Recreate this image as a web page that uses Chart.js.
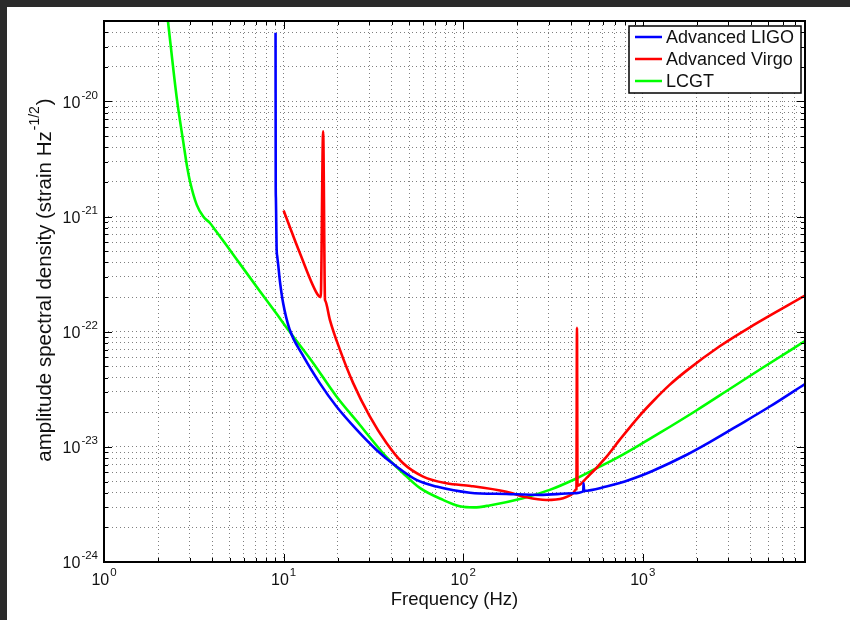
<!DOCTYPE html>
<html>
<head>
<meta charset="utf-8">
<script src="https://cdn.jsdelivr.net/npm/chart.js@4"></script>
<style>
html, body { margin: 0; padding: 0; background: #2b2b2b; }
#frame { position: absolute; left: 7px; top: 7px; width: 843px; height: 613px; background: #fff; }
canvas { display: block; }
</style>
</head>
<body>
<div id="frame"><canvas id="asdChart" width="843" height="613"></canvas></div>
<script>
// Noise curves (frequency in Hz, ASD in strain/sqrt(Hz))
const ligoFreq = [9.02, 9.04, 9.06, 9.1, 9.14, 9.22, 9.33, 9.54, 9.95, 10.8, 12.9, 15.9, 19.7, 25.5, 32.9, 42.5, 54.9, 71, 109, 174, 267, 409, 466, 468, 471, 627, 743, 1000, 1140, 1746, 2360, 3310, 5070, 7950];
const ligoAsd = [3.95e-20, 1.8e-21, 1.45e-21, 9.0e-22, 5.4e-22, 4.5e-22, 3.83e-22, 2.74e-22, 1.76e-22, 1.05e-22, 6.1e-23, 3.58e-23, 2.24e-23, 1.41e-23, 9.4e-24, 6.75e-24, 5.16e-24, 4.52e-24, 4.0e-24, 3.9e-24, 3.83e-24, 3.95e-24, 4.1e-24, 4.83e-24, 4.15e-24, 4.52e-24, 4.85e-24, 5.7e-24, 6.2e-24, 8.5e-24, 1.1e-23, 1.5e-23, 2.23e-23, 3.5e-23];

const virgoFreq = [10.0, 12.3, 15.6, 16.1, 16.6, 17.0, 17.05, 18.1, 20.6, 24.4, 30.2, 37.4, 46.3, 59.8, 80.7, 110, 174, 225, 290, 360, 409, 426, 427, 430, 433, 485, 627, 743, 961, 1140, 1400, 1746, 2679, 4105, 7950];
const virgoAsd = [1.13e-21, 4.86e-22, 2.06e-22, 2.0e-22, 5.5e-21, 1.9e-22, 1.865e-22, 1.27e-22, 6.96e-23, 3.58e-23, 1.84e-23, 1.08e-23, 7.2e-24, 5.52e-24, 4.83e-24, 4.58e-24, 4.08e-24, 3.65e-24, 3.46e-24, 3.58e-24, 3.95e-24, 4.28e-24, 4.3e-24, 1.08e-22, 4.6e-24, 5.35e-24, 8.2e-24, 1.15e-23, 1.87e-23, 2.49e-23, 3.42e-23, 4.57e-23, 7.48e-23, 1.135e-22, 2.05e-22];

const lcgtFreq = [2.27, 2.54, 2.76, 2.91, 3.01, 3.28, 3.57, 3.89, 4.15, 4.82, 5.96, 7.38, 9.14, 10.6, 14.6, 19.7, 26.6, 35.8, 46.3, 57.3, 77.3, 95.7, 115, 140, 215, 303, 409, 529, 713, 961, 1242, 1986, 3046, 4670, 7950];
const lcgtAsd = [5.0e-20, 1.08e-20, 4.5e-21, 2.65e-21, 2.03e-21, 1.27e-21, 1.0e-21, 8.8e-22, 7.7e-22, 5.6e-22, 3.55e-22, 2.25e-22, 1.43e-22, 1.04e-22, 5.35e-23, 2.74e-23, 1.55e-23, 8.8e-24, 5.9e-24, 4.4e-24, 3.46e-24, 3.05e-24, 2.98e-24, 3.1e-24, 3.58e-24, 4.23e-24, 5.16e-24, 6.3e-24, 7.98e-24, 1.04e-23, 1.32e-23, 2.07e-23, 3.18e-23, 4.89e-23, 8.25e-23];

const seriesNames = ['Advanced LIGO', 'Advanced Virgo', 'LCGT'];
const seriesColors = ['#0000ff', '#ff0000', '#00ff00'];

// Axis ranges and decade labels
const xRange = [1, 8000];
const yRange = [1e-24, 5e-20];
const xMajorTicks = [1, 10, 100, 1000];
const xMajorExp = ['0', '1', '2', '3'];
const yMajorTicks = [1e-24, 1e-23, 1e-22, 1e-21, 1e-20];
const yMajorExp = ['-24', '-23', '-22', '-21', '-20'];

const FONT = '"Liberation Sans", Arial, Helvetica, sans-serif';

function toPoints(freqs, vals) {
    return freqs.map((f, i) => ({ x: f, y: vals[i] }));
}

// 1..9 in every decade between lo and hi
function logGrid(lo, hi) {
    const out = [];
    const e0 = Math.floor(Math.log10(lo) + 1e-9);
    const e1 = Math.floor(Math.log10(hi) + 1e-9);
    for (let e = e0; e <= e1; e++) {
        for (let k = 1; k <= 9; k++) {
            const v = k * Math.pow(10, e);
            if (v >= lo * 0.999 && v <= hi * 1.001) out.push(v);
        }
    }
    return out;
}

function isDecade(v) {
    const l = Math.log10(v);
    return Math.abs(l - Math.round(l)) < 1e-6;
}

function drawPower(ctx, exp, x, y, align) {
    const big = '16px ' + FONT, small = '11.5px ' + FONT;
    ctx.font = big;
    const wb = ctx.measureText('10').width;
    ctx.font = small;
    const we = ctx.measureText(exp).width;
    const left = align === 'center' ? x - (wb + we + 1) / 2 : x - wb - we - 1;
    ctx.textAlign = 'left';
    ctx.textBaseline = 'middle';
    ctx.font = big;
    ctx.fillText('10', left, y);
    ctx.font = small;
    ctx.fillText(exp, left + wb + 1, y - 8);
}

// MATLAB-like frame: inward ticks on all sides, superscript tick labels, boxed legend
const figureDecor = {
    id: 'figureDecor',
    afterDraw(chart) {
        const ctx = chart.ctx;
        const a = chart.chartArea;
        const xs = chart.scales.x, ys = chart.scales.y;
        ctx.save();
        ctx.strokeStyle = '#000';
        ctx.lineWidth = 1;
        ctx.setLineDash([]);
        ctx.beginPath();
        logGrid(xRange[0], xRange[1]).forEach(v => {
            const px = Math.round(xs.getPixelForValue(v)) + 0.5;
            const len = isDecade(v) ? 8 : 4;
            ctx.moveTo(px, a.bottom); ctx.lineTo(px, a.bottom - len);
            ctx.moveTo(px, a.top); ctx.lineTo(px, a.top + len);
        });
        logGrid(yRange[0], yRange[1]).forEach(v => {
            const py = Math.round(ys.getPixelForValue(v)) + 0.5;
            const len = isDecade(v) ? 8 : 4;
            ctx.moveTo(a.left, py); ctx.lineTo(a.left + len, py);
            ctx.moveTo(a.right, py); ctx.lineTo(a.right - len, py);
        });
        ctx.stroke();

        ctx.lineWidth = 2;
        ctx.strokeRect(a.left, a.top, a.right - a.left, a.bottom - a.top);

        ctx.fillStyle = '#111';
        xMajorTicks.forEach((v, i) => {
            drawPower(ctx, xMajorExp[i], xs.getPixelForValue(v), a.bottom + 19, 'center');
        });
        yMajorTicks.forEach((v, i) => {
            drawPower(ctx, yMajorExp[i], a.left - 6, ys.getPixelForValue(v) + 2, 'right');
        });

        // y axis title with superscript exponent
        const tBig = '20.5px ' + FONT, tSmall = '14px ' + FONT;
        const partA = 'amplitude spectral density (strain Hz', partB = '-1/2', partC = ')';
        ctx.font = tBig;
        const wA = ctx.measureText(partA).width, wC = ctx.measureText(partC).width;
        ctx.font = tSmall;
        const wB = ctx.measureText(partB).width;
        const total = wA + wB + wC + 2;
        ctx.translate(38, 273);
        ctx.rotate(-Math.PI / 2);
        ctx.textBaseline = 'middle';
        ctx.textAlign = 'left';
        let tx = -total / 2;
        ctx.font = tBig; ctx.fillText(partA, tx, 0); tx += wA + 1;
        ctx.font = tSmall; ctx.fillText(partB, tx, -10); tx += wB + 1;
        ctx.font = tBig; ctx.fillText(partC, tx, 0);
        ctx.setTransform(1, 0, 0, 1, 0, 0);

        // legend
        const lx = a.right - 176, ly = a.top + 5, lw = 172, lh = 67;
        ctx.fillStyle = '#fff';
        ctx.fillRect(lx, ly, lw, lh);
        ctx.lineWidth = 1.5;
        ctx.strokeStyle = '#000';
        ctx.strokeRect(lx, ly, lw, lh);
        ctx.font = '18px ' + FONT;
        ctx.textBaseline = 'middle';
        chart.data.datasets.forEach((ds, i) => {
            const yy = ly + 11 + i * 22;
            ctx.strokeStyle = ds.borderColor;
            ctx.lineWidth = 2.5;
            ctx.beginPath();
            ctx.moveTo(lx + 6, yy); ctx.lineTo(lx + 33, yy);
            ctx.stroke();
            ctx.fillStyle = '#111';
            ctx.fillText(ds.label, lx + 37, yy + 1);
        });
        ctx.restore();
    }
};

const gridStyle = { color: 'rgba(0,0,0,0.5)', lineWidth: 1, drawTicks: false };

new Chart(document.getElementById('asdChart'), {
    type: 'line',
    data: {
        datasets: [
            { label: seriesNames[0], data: toPoints(ligoFreq, ligoAsd), borderColor: seriesColors[0] },
            { label: seriesNames[1], data: toPoints(virgoFreq, virgoAsd), borderColor: seriesColors[1] },
            { label: seriesNames[2], data: toPoints(lcgtFreq, lcgtAsd), borderColor: seriesColors[2] }
        ].map(ds => Object.assign(ds, {
            borderWidth: 2.6,
            pointRadius: 0,
            fill: false,
            cubicInterpolationMode: 'monotone'
        }))
    },
    options: {
        responsive: false,
        animation: false,
        layout: { padding: { left: 0, top: 14, right: 45, bottom: 0 } },
        plugins: {
            legend: { display: false },
            tooltip: { enabled: false }
        },
        scales: {
            x: {
                type: 'logarithmic',
                min: xRange[0],
                max: xRange[1],
                grid: gridStyle,
                border: { display: false, dash: [1, 3] },
                ticks: { display: false },
                afterBuildTicks: s => { s.ticks = logGrid(xRange[0], xRange[1]).map(v => ({ value: v })); },
                afterFit: s => { s.height = 58; },
                title: {
                    display: true,
                    text: 'Frequency (Hz)',
                    color: '#111',
                    font: { family: FONT, size: 18.5 },
                    padding: { top: 0, bottom: 9 }
                }
            },
            y: {
                type: 'logarithmic',
                min: yRange[0],
                max: yRange[1],
                grid: gridStyle,
                border: { display: false, dash: [1, 3] },
                ticks: { display: false },
                afterBuildTicks: s => { s.ticks = logGrid(yRange[0], yRange[1]).map(v => ({ value: v })); },
                afterFit: s => { s.width = 97; }
            }
        }
    },
    plugins: [figureDecor]
});
</script>
</body>
</html>
